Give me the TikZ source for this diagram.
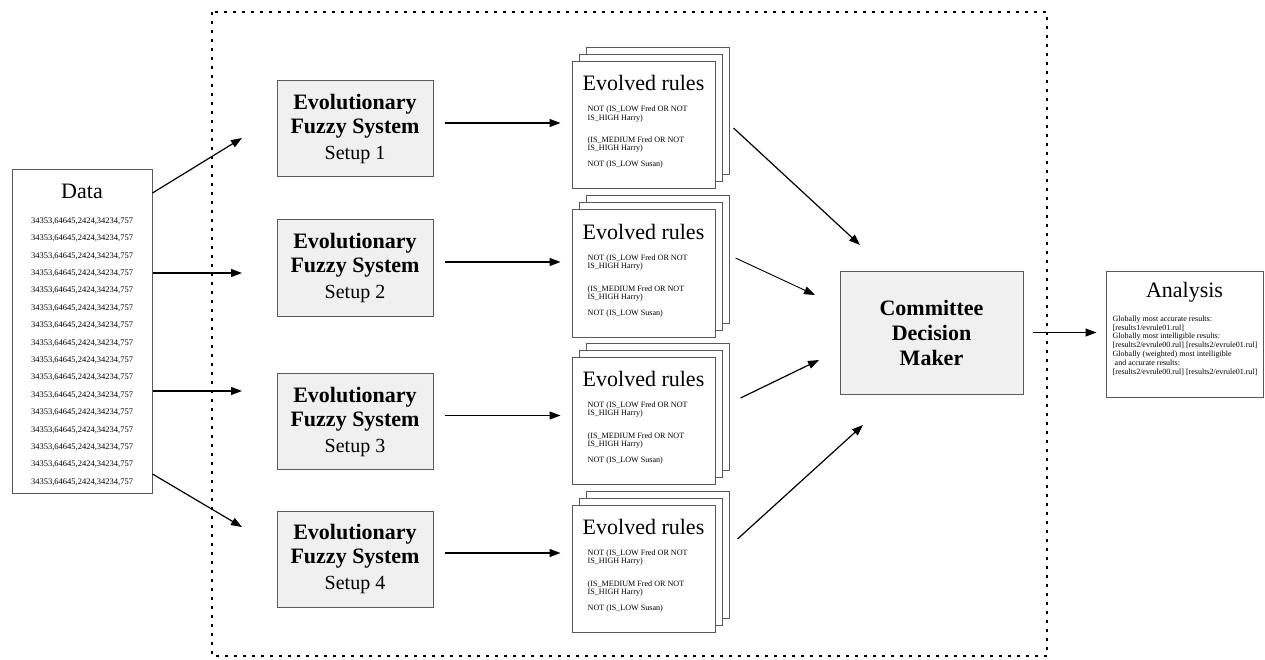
\documentclass[tikz,border=0pt]{standalone}
\usepackage{fontspec}
\setmainfont{Liberation Serif}
\usetikzlibrary{positioning,arrows.meta}

\newcommand{\numrow}{34353,64645,2424,34234,757}

\begin{document}
\begin{tikzpicture}[x=1pt,y=-1pt,
  box/.style={draw=black!65,line width=1pt,fill=white,inner sep=0pt},
  efs/.style={box,fill=black!6,minimum width=156pt,minimum height=96pt,align=center,font=\fontsize{22}{24}\selectfont\bfseries},
  rulebox/.style={box,minimum width=143pt,minimum height=127pt},
  heading/.style={inner sep=0pt,font=\fontsize{22}{24}\selectfont},
  small/.style={inner sep=0pt,align=left,font=\fontsize{8.1}{7.3}\selectfont},
  arr/.style={-{Triangle[length=11pt,width=8pt]},line width=1.2pt}]
  \useasboundingbox (0,0) rectangle (1265,660);
  % dotted frame round the four runs
  \draw[dash pattern=on 3pt off 6pt,line width=2pt] (212,12) rectangle (1047,656);

  % data
  \node[box,minimum width=140pt,minimum height=323pt] (data) at (82,331.5) {};
  \node[heading] (dtitle) at ([yshift=-22pt]data.north) {Data};
  \node[inner sep=0pt,align=center,anchor=north,font=\fontsize{8.5}{17.4}\selectfont] (dnums)
    at ([yshift=-48pt]data.north)
    {\numrow\\\numrow\\\numrow\\\numrow\\\numrow\\\numrow\\\numrow\\\numrow\\
     \numrow\\\numrow\\\numrow\\\numrow\\\numrow\\\numrow\\\numrow\\\numrow};

  % the four setups and their rules
  \foreach \i/\y/\ry in {1/129/125,2/268/273.5,3/421.5/420.5,4/559/568.5}{
    \node[efs] (e\i) at (355,\y)
      {Evolutionary\\Fuzzy System\\[2pt]{\mdseries\fontsize{20}{24}\selectfont Setup \i}};
    \node[rulebox] (r\i-c) at (657.5,\ry-14) {};
    \node[rulebox] (r\i-b) at (650.5,\ry-7) {};
    \node[rulebox] (r\i) at (643.5,\ry) {};
    \node[heading] (rt\i) at ([yshift=-22pt]r\i.north) {Evolved rules};
    \node[small,anchor=north west] (rr\i) at ([xshift=16pt,yshift=-45pt]r\i.north west)
      {NOT (IS\_LOW Fred OR NOT\\IS\_HIGH Harry)\\[14pt](IS\_MEDIUM Fred OR NOT\\IS\_HIGH Harry)\\[7.5pt]NOT (IS\_LOW Susan)};
    \draw[arr] ([xshift=11pt,yshift=6pt]e\i.east) -- ([xshift=-11pt,yshift=6pt]e\i.east -| r\i.west);
  }

  % committee and analysis
  \node[efs,minimum width=183pt,minimum height=123pt,font=\fontsize{22}{25}\selectfont\bfseries] (cdm)
    at (931.5,332.5) {Committee\\Decision\\Maker};
  \node[box,minimum width=157pt,minimum height=126pt] (an) at (1184.5,334) {};
  \node[heading] (antitle) at ([yshift=-22pt]an.north) {Analysis};
  \node[small,anchor=north west,font=\fontsize{8}{8.8}\selectfont] (antext) at ([xshift=7pt,yshift=-45pt]an.north west)
    {Globally most accurate results:\\{[}results1/evrule01.rul{]}\\Globally most intelligible results:\\
     {[}results2/evrule00.rul{]} {[}results2/evrule01.rul{]}\\Globally (weighted) most intelligible\\
     \ and accurate results:\\{[}results2/evrule00.rul{]} {[}results2/evrule01.rul{]}};

  % free arrow ends
  \coordinate (t1) at (242,138);
  \coordinate (t2) at (242,273);
  \coordinate (t3) at (242,391);
  \coordinate (t4) at (242,527);
  \coordinate (c1) at (860,245);
  \coordinate (c2) at (815,295);
  \coordinate (c3) at (819,360);
  \coordinate (c4) at (863,425);

  \draw[arr] ([yshift=138.5pt]data.east) -- (t1);
  \draw[arr] ([yshift=58.5pt]data.east) -- (t2);
  \draw[arr] ([yshift=-59.5pt]data.east) -- (t3);
  \draw[arr] ([yshift=-142.5pt]data.east) -- (t4);

  \draw[arr] ([xshift=18pt,yshift=-3pt]r1.east) -- (c1);
  \draw[arr,line width=0.9pt] ([xshift=20pt,yshift=15.5pt]r2.east) -- (c2);
  \draw[arr] ([xshift=25pt,yshift=22.5pt]r3.east) -- (c3);
  \draw[arr] ([xshift=22pt,yshift=29.5pt]r4.east) -- (c4);

  \draw[arr] ([xshift=9pt]cdm.east) -- ([xshift=-9pt]cdm.east -| an.west);
\end{tikzpicture}
\end{document}
